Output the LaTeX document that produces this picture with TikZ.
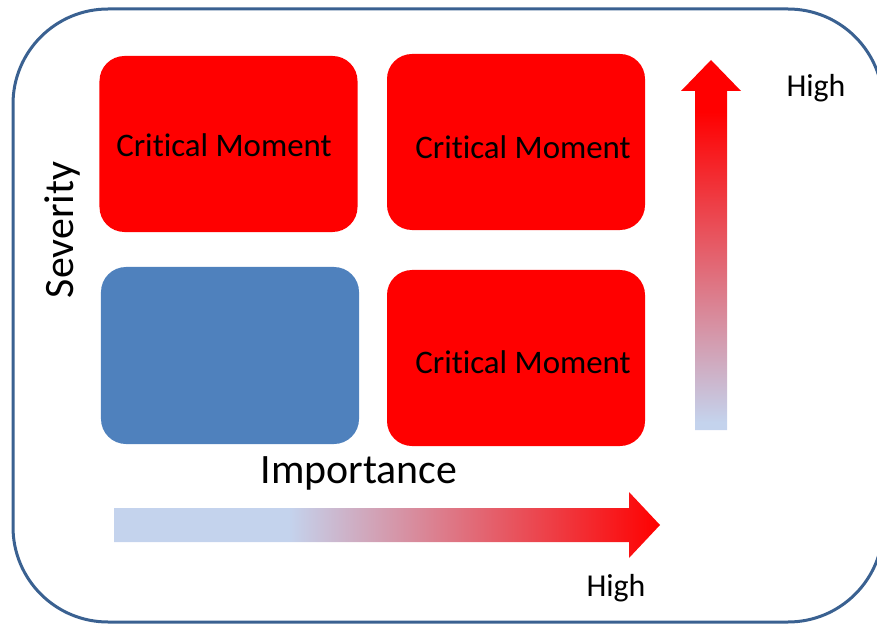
\documentclass[tikz,border=0pt]{standalone}
\usepackage{fontspec}
\setmainfont{Carlito}[RawFeature={-liga;-clig;-calt;-dlig}]
\usepackage{tikz}

\definecolor{frameblue}{RGB}{58,97,145}
\definecolor{lowblue}{RGB}{196,211,237}
\definecolor{boxblue}{RGB}{79,129,189}
\definecolor{hired}{RGB}{255,0,0}

\pgfdeclarehorizontalshading{importshade}{100bp}{color(0bp)=(lowblue); color(41bp)=(lowblue); color(75bp)=(hired); color(100bp)=(hired)}
\pgfdeclareverticalshading{severshade}{100bp}{color(0bp)=(lowblue); color(26bp)=(lowblue); color(68bp)=(hired); color(100bp)=(hired)}

% keep t and i apart
\newcommand{\critmoment}{Crit\kern0pt ical Moment}

\tikzset{
  quadrant/.style={rectangle,rounded corners=25bp,minimum width=258bp,minimum height=176bp,inner sep=0pt,draw=none},
  moment/.style={quadrant,fill=hired},
  calm/.style={quadrant,fill=boxblue},
  momentlabel/.style={anchor=base,font=\fontsize{33}{38}\selectfont},
  axislabel/.style={anchor=base,font=\fontsize{42}{48}\selectfont},
  highlabel/.style={anchor=base,font=\fontsize{32}{38}\selectfont}
}

\begin{document}
\begin{tikzpicture}[line cap=round,line join=round,x=1bp,y=-1bp]
\useasboundingbox (0,0) rectangle (877,625);

% outer frame
\draw[frameblue,line width=3bp,rounded corners=95bp] (13,9) rectangle (883,622);

% the four quadrants
\node[moment] (tl) at (228.5,144) {};
\node[moment] (tr) at (516,142) {};
\node[calm,minimum height=177bp] (bl) at (230,355.5) {};
\node[moment] (br) at (516,358) {};

\node[momentlabel] (tltext) at (224,157) {\critmoment};
\node[momentlabel] (trtext) at (523,159) {\critmoment};
\node[momentlabel] (brtext) at (523,373) {\critmoment};

% axes
\shade[shading=severshade] (695,430) -- (695,91) -- (681,91) -- (711,60) -- (741,91) -- (727,91) -- (727,430) -- cycle;
\shade[shading=importshade] (114,508) -- (629,508) -- (629,492) -- (660,525) -- (629,558) -- (629,542) -- (114,542) -- cycle;

\node[axislabel,rotate=90] (severity) at (73,230) {Severity};
\node[axislabel] (importance) at (359,483) {Importance};
\node[highlabel] (hightop) at (816,97) {High};
\node[highlabel] (highbottom) at (616,596) {High};

\end{tikzpicture}
\end{document}
